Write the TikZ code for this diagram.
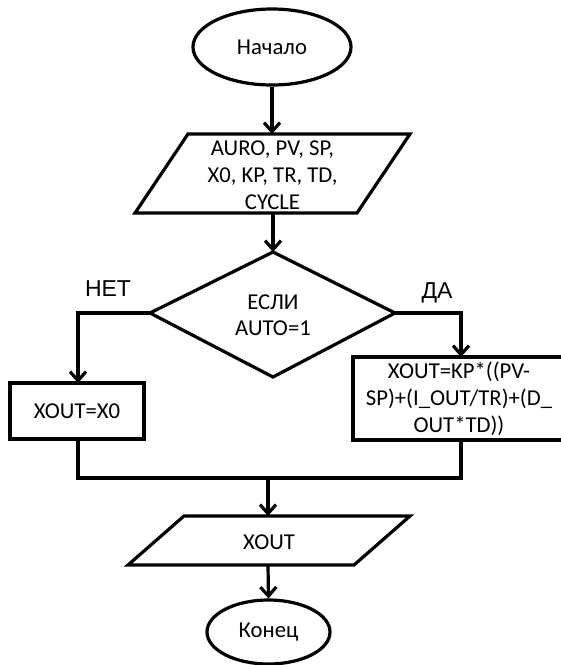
\documentclass[tikz,border=0pt]{standalone}
\usepackage{fontspec}
\setmainfont{Carlito}
\newfontfamily\labelfont{Liberation Sans}
\usetikzlibrary{arrows.meta,shapes.geometric}
\begin{document}
\begin{tikzpicture}[x=1pt,y=-1pt,
  line width=3.2pt,
  flow/.style={-{Straight Barb[length=9pt,width=16pt]}},
  txt/.style={font=\fontsize{22.7}{27}\selectfont, align=center, inner sep=0pt},
  branch/.style={font=\labelfont\fontsize{23}{26}\selectfont, inner sep=0pt},
  term/.style={ellipse, draw, inner sep=0pt, font=\fontsize{22.7}{27}\selectfont}]
\useasboundingbox (0,0) rectangle (561,665);

% terminals
\node[term, minimum width=158pt, minimum height=76pt] (start) at (272,47) {Начало};
\node[term, minimum width=123pt, minimum height=64pt] (stop) at (268.5,632) {Конец};

% input parallelogram
\coordinate (inTop) at (273,134);
\coordinate (inBot) at (273,213);
\draw (135,213) -- (188,134) -- (410,134) -- (357,213) -- cycle;
\node[txt] (inText) at (272.5,175) {AURO, PV, SP,\\X0, KP, TR, TD,\\CYCLE};

% decision
\coordinate (dTop) at (273,252);
\coordinate (dLeft) at (150,313);
\coordinate (dRight) at (395,313);
\draw (dTop) -- (dRight) -- (273,377) -- (dLeft) -- cycle;
\node[txt, font=\fontsize{22.7}{26}\selectfont] (cond) at (273,315) {ЕСЛИ\\AUTO=1};
\node[branch] (no) at (108,289) {НЕТ};
\node[branch] (yes) at (437,293) {ДА};

% manual branch
\node[draw, minimum width=134pt, minimum height=56pt, inner sep=0pt, txt] (manual) at (77,411) {XOUT=X0};
\coordinate (manTop) at (78,383);
\coordinate (manBot) at (78,439);

% automatic branch
\node[draw, minimum width=216pt, minimum height=83pt, inner sep=0pt] (auto) at (461,398.5) {};
\node[txt] (autoText) at (459,399) {XOUT=KP*((PV-\\SP)+(I\_OUT/TR)+(D\_\\OUT*TD))};
\coordinate (autoTop) at (461,357);
\coordinate (autoBot) at (461,440);

% merge point
\coordinate (mergeL) at (78,478);
\coordinate (mergeR) at (461,478);
\coordinate (mergeC) at (268,478);

% output parallelogram
\coordinate (outTop) at (268,516);
\coordinate (outBot) at (268,565);
\draw (128,565) -- (184,516) -- (410,516) -- (354,565) -- cycle;
\node[txt] (outText) at (269,542) {XOUT};

% connectors
\draw[flow] (start.south) -- (start.south |- inTop);
\draw[flow] (inBot) -- (dTop);
\draw[flow] (dLeft) -| (manTop);
\draw[flow] (dRight) -| (autoTop);
\draw (manBot) -- (mergeL) -- (mergeR) -- (autoBot);
\draw[flow] (mergeC) -- (outTop);
\draw[flow] (outBot) -- (stop.north);
\end{tikzpicture}
\end{document}
